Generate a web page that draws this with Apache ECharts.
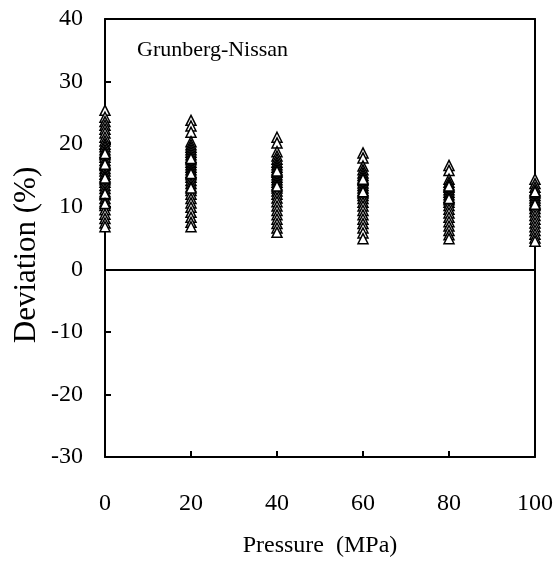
<!DOCTYPE html>
<html><head><meta charset="utf-8">
<script src="https://cdn.jsdelivr.net/npm/echarts@6/dist/echarts.min.js"></script>
<style>html,body{margin:0;padding:0;background:#fff}#c{width:560px;height:563px}</style>
</head><body><div id="c"></div>
<script>
const pressures = [0, 20, 40, 60, 80, 100];
const dev0 = [25.4, 24.3, 23.6, 23.0, 22.4, 21.8, 21.1, 20.5, 20.0, 19.6, 19.1, 18.7, 18.3, 17.9, 17.4, 17.0, 16.6, 16.1, 15.7, 15.2, 14.8, 14.3, 13.9, 13.4, 12.9, 12.4, 11.9, 11.3, 10.8, 10.2, 9.5, 8.8, 8.1, 7.4, 6.8, 18.5, 16.8, 14.6, 12.1, 10.5];
const dev20 = [23.8, 22.9, 21.9, 20.4, 19.9, 19.5, 19.1, 18.7, 18.3, 17.9, 17.5, 17.1, 16.7, 16.3, 15.9, 15.5, 15.1, 14.7, 14.2, 13.7, 13.2, 12.6, 12.0, 11.3, 10.6, 9.9, 9.1, 8.3, 7.5, 6.8, 17.7, 15.3, 13.0];
const dev40 = [21.1, 20.2, 18.8, 18.1, 17.6, 17.1, 16.7, 16.3, 15.9, 15.5, 15.1, 14.7, 14.3, 13.9, 13.5, 13.0, 12.5, 12.0, 11.4, 10.8, 10.1, 9.4, 8.7, 8.0, 7.3, 6.6, 5.9, 15.7, 13.3];
const dev60 = [18.6, 17.8, 16.5, 15.9, 15.4, 15.0, 14.6, 14.2, 13.8, 13.4, 13.0, 12.6, 12.2, 11.8, 11.3, 10.7, 10.1, 9.4, 8.7, 8.0, 7.3, 6.6, 5.8, 4.9, 14.4, 12.4];
const dev80 = [16.6, 15.8, 14.4, 13.9, 13.5, 13.1, 12.7, 12.3, 11.9, 11.5, 11.1, 10.7, 10.2, 9.6, 9.0, 8.3, 7.6, 6.9, 6.2, 5.5, 4.9, 13.3, 11.3];
const dev100 = [14.4, 13.7, 13.1, 12.6, 12.2, 11.8, 11.4, 11.0, 10.6, 10.2, 9.7, 9.2, 8.6, 8.0, 7.4, 6.8, 6.2, 5.6, 5.0, 4.5, 12.4, 10.4];
const xTicks = ['0', '20', '40', '60', '80', '100'];
const modelName = 'Grunberg-Nissan';
const xName = 'Pressure  (MPa)';
const yName = 'Deviation (%)';

const columns = [dev0, dev20, dev40, dev60, dev80, dev100];
const pts = [];
columns.forEach((col, i) => col.forEach(v => pts.push([pressures[i], v])));

const font = 'Liberation Serif, Times New Roman, serif';
const chart = echarts.init(document.getElementById('c'), null, {renderer: 'canvas'});
chart.setOption({
  backgroundColor: '#fff',
  animation: false,
  title: {text: modelName, left: 132, top: 34, textStyle: {fontFamily: font, fontSize: 22, fontWeight: 'normal', color: '#000'}},
  graphic: [{
    type: 'text', x: 27, y: 255, rotation: Math.PI / 2,
    style: {text: yName, font: '31px ' + font, fill: '#000', align: 'center', verticalAlign: 'middle'}
  }],
  grid: {left: 105, right: 25, top: 19, bottom: 104},
  xAxis: [{
    type: 'value', min: 0, max: 100, interval: 20, position: 'bottom',
    name: xName, nameLocation: 'middle', nameGap: 77,
    nameTextStyle: {fontFamily: font, fontSize: 24, color: '#000'},
    axisLine: {show: true, onZero: false, lineStyle: {color: '#000', width: 2}},
    axisTick: {show: true, inside: true, length: 6, lineStyle: {color: '#000', width: 2}},
    axisLabel: {fontFamily: font, fontSize: 24, color: '#000', margin: 35, formatter: v => xTicks[pressures.indexOf(v)] ?? String(v)},
    splitLine: {show: false}
  }, {
    type: 'value', min: 0, max: 100, position: 'top',
    axisLine: {show: true, onZero: false, lineStyle: {color: '#000', width: 2}},
    axisTick: {show: false}, axisLabel: {show: false}, splitLine: {show: false}
  }],
  yAxis: [{
    type: 'value', min: -30, max: 40, interval: 10, position: 'left',
    axisLine: {show: true, onZero: false, lineStyle: {color: '#000', width: 2}},
    axisTick: {show: true, inside: true, length: 6, lineStyle: {color: '#000', width: 2}},
    axisLabel: {fontFamily: font, fontSize: 24, color: '#000', margin: 22},
    splitLine: {show: false}
  }, {
    type: 'value', min: -30, max: 40, position: 'right',
    axisLine: {show: true, onZero: false, lineStyle: {color: '#000', width: 2}},
    axisTick: {show: false}, axisLabel: {show: false}, splitLine: {show: false}
  }],
  series: [{
    type: 'scatter', xAxisIndex: 0, yAxisIndex: 0,
    data: pts, symbol: 'triangle', symbolSize: 10, clip: false,
    itemStyle: {color: '#fff', borderColor: '#000', borderWidth: 1.5, opacity: 1},
    markLine: {silent: true, symbol: ['none', 'none'], label: {show: false},
      lineStyle: {color: '#000', width: 2, type: 'solid'}, data: [{yAxis: 0}]}
  }]
});
</script></body></html>
